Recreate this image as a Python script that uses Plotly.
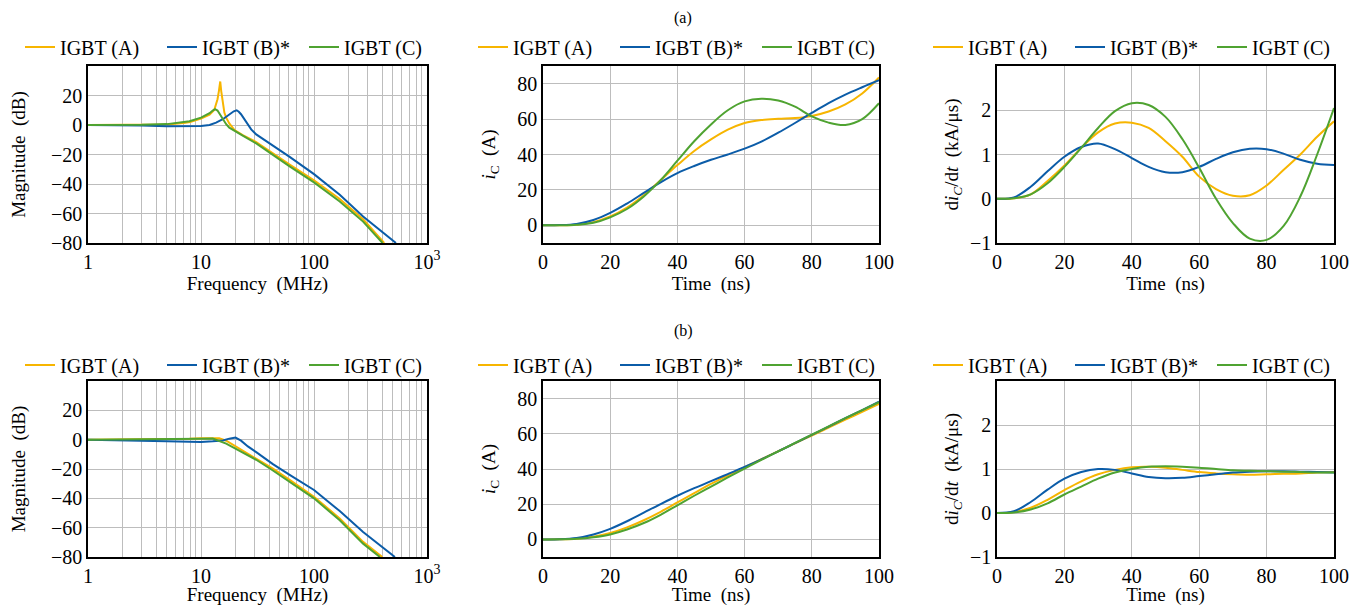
import plotly.graph_objects as go

# ---- data -----------------------------------------------------------------
SERIES = ["IGBT (A)", "IGBT (B)*", "IGBT (C)"]
COLORS = ["#F7B500", "#0B5CA8", "#4FA331"]

# (a) magnitude, frequency in MHz
A_FREQ_A = [1, 2, 3, 5, 7, 8, 10, 11.9, 13.1, 14.0, 14.4, 14.8, 15.1, 15.6, 16.1,
            16.7, 17.8, 19.8, 23.4, 30.8, 40, 60.9, 100, 169, 272, 418]
A_MAG_A = [0, 0, 0.1, 0.4, 1.3, 2.0, 4.3, 7.0, 10.2, 17.5, 23, 29.5, 23, 14, 8.4,
           5.0, 1.1, -3.4, -6.8, -11.6, -17.5, -26.8, -37.5, -50.2, -63.9, -80]
A_FREQ_B = [1, 2, 3, 5, 7.9, 10, 11.9, 13.6, 15.6, 17.8, 19.5, 20.7, 21.6, 22.6,
            25.1, 27.8, 30.8, 37.8, 46.3, 60.9, 100, 169, 272, 531]
A_MAG_B = [0, -0.1, -0.4, -0.8, -0.9, -0.7, 0, 1.6, 3.9, 7.3, 9.3, 10.0, 9.0, 7.3,
           1.6, -3.0, -6.4, -10.9, -15.5, -21.6, -33.3, -47.3, -62, -80]
A_FREQ_C = [1, 2, 3, 5, 7, 7.9, 10, 11.9, 12.7, 13.3, 14.0, 14.5, 15.6, 16.7, 17.8,
            19.8, 23.4, 30.8, 40, 60.9, 100, 169, 272, 404]
A_MAG_C = [0, 0, 0.1, 0.6, 1.7, 2.5, 5.0, 8.0, 9.8, 10.7, 9.8, 8.0, 3.9, 0.5, -1.8,
           -4.1, -7.2, -12.5, -18.5, -28, -38.9, -51.8, -65.5, -80]

# (b) magnitude
B_FREQ_A = [1, 3, 5, 7.9, 10, 12.7, 14.5, 16.7, 19.8, 30.8, 43.3, 60.9, 100, 169, 272, 402]
B_MAG_A = [0, 0.1, 0.3, 0.7, 1.0, 1.3, 1.0, -0.7, -4.1, -12.6, -19.8, -27.4, -38.9,
           -53.7, -69.7, -80]
B_FREQ_B = [1, 3, 5, 7.9, 10, 12.7, 15.6, 17.8, 20.2, 22.6, 26, 30.8, 43.3, 60.9,
            100, 169, 272, 520]
B_MAG_B = [0, -0.4, -1.0, -1.5, -1.6, -1.1, -0.5, 0.7, 1.4, -0.7, -4.6, -8.5, -16.7,
           -24, -34.3, -48.7, -62.9, -80]
B_FREQ_C = [1, 3, 5, 7.9, 10, 12.7, 14.5, 16.7, 19.8, 30.8, 43.3, 60.9, 100, 169, 272, 383]
B_MAG_C = [0, 0.1, 0.2, 0.5, 0.7, 0.8, -0.7, -2.7, -5.7, -13.7, -21, -28.6, -40, -55,
           -70.9, -80]

# time-domain samples, ns
TIME_NS = [0, 5, 10, 15, 20, 25, 30, 35, 40, 45, 50, 55, 60, 65, 70, 75, 80, 85, 90, 95, 100]

A_IC_A = [0, 0, 0.3, 1.8, 5.0, 10, 17, 25.5, 34, 42, 48.5, 54, 57.8, 59.5, 60.2, 60.6,
          61.8, 64.3, 68.3, 74.5, 83.5]
A_IC_B = [0, 0.1, 0.8, 3.0, 7.0, 12.3, 18.3, 24.3, 29.5, 33.5, 37, 40, 43.3, 47.3, 52.3,
          57.8, 63.5, 69, 73.8, 78, 82]
A_IC_C = [0, 0, 0.3, 1.4, 4.5, 9.2, 16.3, 25.5, 36.5, 47.5, 57, 65, 70, 71.5, 70.5, 67,
          61.5, 58, 56.7, 60, 69]

A_DIDT_A = [0, 0.01, 0.1, 0.4, 0.75, 1.15, 1.5, 1.7, 1.72, 1.6, 1.3, 0.95, 0.5, 0.22,
            0.07, 0.08, 0.3, 0.65, 1.0, 1.4, 1.75]
A_DIDT_B = [0, 0.03, 0.27, 0.62, 0.95, 1.17, 1.25, 1.12, 0.92, 0.72, 0.6, 0.6, 0.72,
            0.9, 1.05, 1.13, 1.12, 1.02, 0.88, 0.79, 0.76]
A_DIDT_C = [0, 0.01, 0.1, 0.35, 0.72, 1.15, 1.6, 1.98, 2.16, 2.12, 1.85, 1.35, 0.7, 0.0,
            -0.55, -0.9, -0.93, -0.62, 0.05, 1.0, 2.05]

B_IC_A = [0, 0.05, 0.4, 1.5, 3.6, 6.8, 10.9, 15.7, 21, 26.3, 31.5, 36.3, 41, 45.6, 50.1,
          54.6, 59, 63.5, 68, 72.5, 77]
B_IC_B = [0, 0.1, 0.8, 2.8, 6, 10.3, 15.2, 20.1, 24.8, 29.1, 33.1, 37.1, 41.2, 45.5, 50,
          54.7, 59.4, 64.1, 68.9, 73.5, 78.2]
B_IC_C = [0, 0.03, 0.3, 1.2, 2.8, 5.6, 9.3, 14, 19.4, 24.8, 30, 35.2, 40.2, 45.2, 50,
          54.8, 59.5, 64.2, 68.9, 73.5, 78]

B_DIDT_A = [0, 0.02, 0.12, 0.3, 0.52, 0.72, 0.88, 0.98, 1.04, 1.05, 1.03, 0.98, 0.93,
            0.9, 0.88, 0.87, 0.88, 0.89, 0.9, 0.92, 0.93]
B_DIDT_B = [0, 0.04, 0.25, 0.53, 0.78, 0.93, 1.0, 0.98, 0.9, 0.82, 0.79, 0.8, 0.84,
            0.88, 0.92, 0.94, 0.95, 0.95, 0.94, 0.93, 0.92]
B_DIDT_C = [0, 0.01, 0.08, 0.22, 0.42, 0.6, 0.78, 0.92, 1.0, 1.05, 1.06, 1.05, 1.03,
            1.0, 0.97, 0.96, 0.95, 0.94, 0.93, 0.92, 0.92]

LOG_MAJOR = [1, 10, 100, 1000]
LOG_MAJOR_TEXT = ["1", "10", "100", "10<sup>3</sup>"]
LOG_MINOR = [m * 10 ** k for k in range(3) for m in range(2, 10)]

FONT = "Times New Roman, Liberation Serif, DejaVu Serif, serif"

# the page body adds an 8 px margin, so the figure is drawn 8 px in from the
# top-left corner; positions below are in screen pixels and shifted back
PAGE_OFF = 8
W, H = 1366 - PAGE_OFF, 606 - PAGE_OFF

# pixel boxes of the six panels on screen (left, right) and (top, bottom)
COLS = [(88, 427), (543, 879), (997, 1334)]
ROWS = [(66, 243), (381, 557)]


def px_x(v):
    return (v - PAGE_OFF) / W


def px_y(v):
    return 1 - (v - PAGE_OFF) / H


fig = go.Figure()

panels = [
    # row, col, kind, xs, ys
    (0, 0, "mag", [A_FREQ_A, A_FREQ_B, A_FREQ_C], [A_MAG_A, A_MAG_B, A_MAG_C]),
    (0, 1, "ic", [TIME_NS] * 3, [A_IC_A, A_IC_B, A_IC_C]),
    (0, 2, "didt", [TIME_NS] * 3, [A_DIDT_A, A_DIDT_B, A_DIDT_C]),
    (1, 0, "mag", [B_FREQ_A, B_FREQ_B, B_FREQ_C], [B_MAG_A, B_MAG_B, B_MAG_C]),
    (1, 1, "ic", [TIME_NS] * 3, [B_IC_A, B_IC_B, B_IC_C]),
    (1, 2, "didt", [TIME_NS] * 3, [B_DIDT_A, B_DIDT_B, B_DIDT_C]),
]

GRID = "#bdbdbd"
axis_common = dict(
    showline=True, mirror=True, linecolor="black", linewidth=1.5,
    showgrid=True, gridcolor=GRID, gridwidth=1, zeroline=False,
    ticks="", automargin=False,
    tickfont=dict(family=FONT, size=20, color="black"),
    title_font=dict(family=FONT, size=19, color="black"),
)

legend_x = [20, 473, 928]

for i, (row, col, kind, xs, ys) in enumerate(panels, start=1):
    sfx = "" if i == 1 else str(i)
    leg = "legend" if i == 1 else f"legend{i}"
    for name, color, x, y in zip(SERIES, COLORS, xs, ys):
        fig.add_trace(go.Scatter(
            x=x, y=y, mode="lines", name=name, legend=leg,
            line=dict(color=color, width=2, shape="linear" if kind == "mag" else "spline"),
            xaxis=f"x{sfx}", yaxis=f"y{sfx}",
        ))

    l, r = COLS[col]
    t, b = ROWS[row]
    xa = dict(axis_common, domain=[px_x(l), px_x(r)], anchor=f"y{sfx}")
    ya = dict(axis_common, domain=[px_y(b), px_y(t)], anchor=f"x{sfx}")
    if kind == "mag":
        xa.update(type="log", range=[0, 3], tickvals=LOG_MAJOR, ticktext=LOG_MAJOR_TEXT,
                  minor=dict(tickvals=LOG_MINOR, showgrid=True, gridcolor=GRID,
                             gridwidth=1, ticks=""),
                  title=dict(text="Frequency\u00a0 (MHz)", standoff=1))
        ya.update(range=[-80, 40], tickvals=[-80, -60, -40, -20, 0, 20],
                  title=dict(text="Magnitude\u00a0 (dB)", standoff=23))
    else:
        xa.update(range=[0, 100], tickvals=[0, 20, 40, 60, 80, 100],
                  title=dict(text="Time\u00a0 (ns)", standoff=1))
        if kind == "ic":
            ya.update(range=[-10, 90], tickvals=[0, 20, 40, 60, 80],
                      title=dict(text="<i>i</i><sub>C</sub>\u00a0 (A)", standoff=17))
        else:
            ya.update(range=[-1, 3], tickvals=[-1, 0, 1, 2],
                      title=dict(text="d<i>i</i><sub><i>C</i></sub>/d<i>t</i>\u00a0 (kA/\u03bcs)",
                                 standoff=6))
    fig.layout[f"xaxis{sfx}"] = xa
    fig.layout[f"yaxis{sfx}"] = ya
    fig.layout[leg] = dict(
        orientation="h", x=px_x(legend_x[col]), xanchor="left",
        y=px_y(47 if row == 0 else 365), yanchor="middle",
        font=dict(family=FONT, size=20, color="black"),
        bgcolor="rgba(0,0,0,0)", entrywidth=97, entrywidthmode="pixels",
        itemclick=False,
    )

for label, ypx in [("(a)", 18), ("(b)", 331)]:
    fig.add_annotation(text=label, x=px_x(683), y=px_y(ypx), xref="paper", yref="paper",
                       xanchor="center", yanchor="middle", showarrow=False,
                       font=dict(family=FONT, size=16, color="black"))

fig.update_layout(
    width=W, height=H, margin=dict(l=0, r=0, t=0, b=0, autoexpand=False),
    paper_bgcolor="white", plot_bgcolor="white",
    font=dict(family=FONT, size=20, color="black"),
)

fig.write_html("out.html")
